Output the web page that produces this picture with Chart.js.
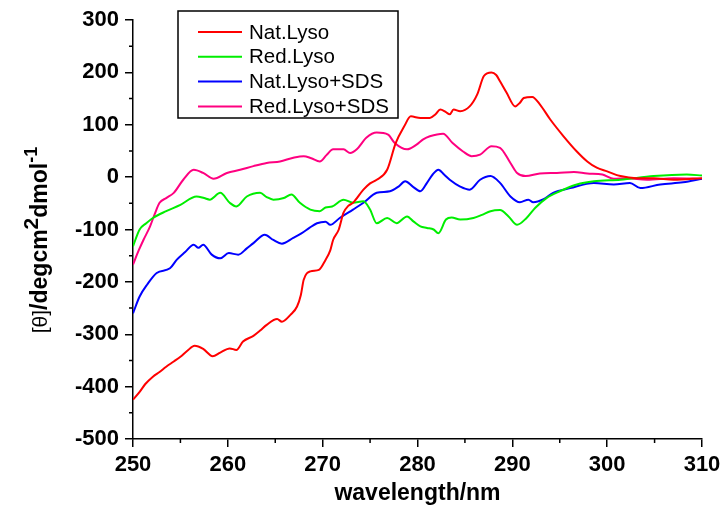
<!DOCTYPE html>
<html>
<head>
<meta charset="utf-8">
<script src="https://cdn.jsdelivr.net/npm/chart.js@4.4.0/dist/chart.umd.min.js"></script>
<style>
  html, body { margin: 0; padding: 0; background: #fff; }
  #wrap { width: 726px; height: 525px; }
</style>
</head>
<body>
<div id="wrap"><canvas id="cd" width="726" height="525"></canvas></div>
<script>
const seriesNames = ["Nat.Lyso", "Red.Lyso", "Nat.Lyso+SDS", "Red.Lyso+SDS"];
const seriesColors = ["#ff0000", "#00ee00", "#0000ff", "#ff0080"];

const natLysoX = [250, 250.7, 251.3, 252.1, 252.8, 253.5, 254.3, 255.0, 255.7, 256.5, 257.4, 258.4, 259.2, 260.2, 260.9, 261.6, 262.7, 263.4, 264.1, 265.2, 265.7, 266.6, 267.3, 267.7, 268.0, 268.7, 269.6, 270.3, 270.8, 271.1, 271.7, 272.2, 272.7, 273.2, 274.3, 275.0, 275.7, 276.8, 277.7, 278.6, 279.3, 280.3, 281.3, 281.9, 282.4, 283.0, 283.4, 283.8, 284.5, 285.5, 286.3, 287.0, 287.8, 288.3, 288.7, 289.4, 290.3, 290.8, 291.2, 292.1, 292.9, 294.0, 295.4, 296.8, 297.9, 298.9, 300.0, 301.4, 303.1, 304.9, 307.0, 310];
const natLysoY = [-425, -410, -395, -381, -372, -362, -352, -343, -332, -322, -328, -342, -335, -327, -330, -314, -303, -293, -282, -271, -276, -263, -247, -225, -196, -180, -177, -158, -140, -120, -100, -68, -55, -49, -24, -12, -5, 14, 65, 97, 116, 113, 113, 120, 129, 124, 120, 129, 126, 135, 158, 193, 200, 195, 183, 161, 135, 142, 151, 153, 139, 110, 78, 49, 30, 18, 11, 2, -2, -2, -5, -2];

const redLysoX = [250, 250.7, 251.4, 252.1, 253.5, 255.0, 256.7, 257.5, 258.1, 259.2, 260.2, 260.9, 262.0, 263.4, 264.1, 264.8, 265.9, 266.7, 267.6, 268.7, 269.7, 270.3, 271.0, 272.2, 273.2, 274.3, 275.0, 275.7, 276.8, 277.8, 278.9, 279.6, 280.3, 281.0, 281.7, 282.2, 283.0, 283.6, 284.5, 285.9, 286.8, 287.7, 288.7, 289.6, 290.5, 291.5, 292.4, 293.6, 295.0, 296.8, 298.6, 301.4, 304.9, 308.4, 310];
const redLysoY = [-132, -100, -88, -78, -65, -53, -37, -40, -43, -30, -49, -56, -37, -30, -38, -43, -40, -33, -49, -62, -65, -58, -56, -43, -49, -46, -62, -88, -78, -88, -75, -85, -94, -97, -100, -107, -81, -77, -81, -78, -72, -65, -63, -75, -91, -78, -59, -40, -27, -14, -8, -5, 2, 5, 3];

const natSdsX = [250, 250.7, 251.5, 252.5, 253.9, 254.6, 255.5, 256.4, 256.9, 257.4, 258.3, 259.2, 260.1, 261.1, 262.0, 262.7, 263.9, 264.8, 265.7, 266.9, 267.8, 268.6, 269.4, 270.3, 270.8, 271.8, 273.2, 274.3, 275.7, 277.1, 278.0, 278.7, 279.5, 280.3, 281.0, 281.6, 282.2, 282.8, 283.4, 284.5, 285.5, 286.6, 287.7, 288.7, 289.8, 290.8, 291.7, 292.2, 293.3, 294.3, 296.1, 298.6, 300.7, 302.4, 303.5, 305.6, 308.0, 310];
const natSdsY = [-260, -228, -205, -183, -174, -158, -143, -129, -135, -129, -148, -155, -145, -148, -136, -126, -110, -120, -127, -116, -107, -97, -88, -85, -91, -78, -62, -49, -30, -27, -18, -8, -18, -27, -11, 5, 14, 5, -5, -18, -24, -5, 2, -11, -37, -48, -43, -48, -42, -30, -21, -11, -14, -11, -21, -14, -10, -3];

const redSdsX = [250, 250.6, 251.1, 251.8, 252.3, 252.8, 253.5, 254.3, 255.3, 256.4, 257.4, 258.5, 259.9, 261.3, 262.7, 264.1, 265.5, 266.9, 268.0, 268.8, 269.7, 270.4, 271.1, 272.2, 272.9, 273.6, 274.6, 275.7, 276.9, 277.6, 278.9, 279.9, 280.6, 281.3, 282.7, 283.7, 284.8, 285.7, 286.6, 287.8, 288.7, 289.8, 290.5, 291.4, 292.9, 294.7, 296.5, 297.9, 299.5, 300.7, 302.1, 304.2, 307.0, 310];
const redSdsY = [-167, -140, -120, -94, -70, -49, -40, -30, -5, 14, 8, -3, 8, 14, 21, 27, 30, 37, 40, 36, 30, 42, 53, 53, 46, 53, 75, 85, 81, 65, 53, 62, 72, 78, 83, 65, 49, 40, 43, 59, 56, 27, 8, 2, 7, 8, 10, 7, 5, -3, -2, -5, -2, -3];

const xMin = 250, xMax = 310, xStep = 10;
const yMin = -500, yMax = 300, yStep = 100;

const seriesX = [natLysoX, redLysoX, natSdsX, redSdsX];
const seriesY = [natLysoY, redLysoY, natSdsY, redSdsY];

const datasets = seriesNames.map((name, i) => ({
  label: name,
  data: seriesX[i].map((x, j) => ({ x, y: seriesY[i][j] })),
  borderColor: seriesColors[i],
  backgroundColor: seriesColors[i],
  borderWidth: 2,
  pointRadius: 0,
  cubicInterpolationMode: "monotone",
  fill: false
}));

// minor ticks, axis titles and the framed legend
const decor = {
  id: "decor",
  afterDraw(chart) {
    const ctx = chart.ctx;
    const xs = chart.scales.x, ys = chart.scales.y;
    const area = chart.chartArea;
    ctx.save();
    ctx.strokeStyle = "#000";
    ctx.lineWidth = 1.5;
    ctx.beginPath();
    for (let v = yMin + yStep / 2; v < yMax; v += yStep) {
      const py = ys.getPixelForValue(v);
      ctx.moveTo(area.left, py); ctx.lineTo(area.left - 4, py);
    }
    for (let v = xMin + xStep / 2; v < xMax; v += xStep) {
      const px = xs.getPixelForValue(v);
      ctx.moveTo(px, area.bottom); ctx.lineTo(px, area.bottom + 4);
    }
    ctx.stroke();

    // x title
    ctx.fillStyle = "#000";
    ctx.font = "bold 23px Arial";
    ctx.textAlign = "center";
    ctx.textBaseline = "middle";
    ctx.fillText("wavelength/nm", (area.left + area.right) / 2, 494);

    // y title with superscripts
    const parts = [
      { t: "[θ]", f: "21px Arial", dy: 0 },
      { t: "/degcm", f: "bold 23px Arial", dy: 0 },
      { t: "2", f: "bold 21px Arial", dy: -9 },
      { t: "dmol", f: "bold 23px Arial", dy: 0 },
      { t: "-1", f: "bold 18px Arial", dy: -10 }
    ];
    let total = 0;
    parts.forEach(p => { ctx.font = p.f; p.w = ctx.measureText(p.t).width; total += p.w; });
    ctx.translate(47, 240);
    ctx.rotate(-Math.PI / 2);
    ctx.textAlign = "left";
    ctx.textBaseline = "alphabetic";
    let cx = -total / 2;
    parts.forEach(p => { ctx.font = p.f; ctx.fillText(p.t, cx, p.dy); cx += p.w; });
    ctx.setTransform(1, 0, 0, 1, 0, 0);

    // legend
    ctx.fillStyle = "#fff";
    ctx.fillRect(178, 11, 220, 107);
    ctx.strokeStyle = "#000";
    ctx.lineWidth = 1.5;
    ctx.strokeRect(178, 11, 220, 107);
    ctx.font = "20.5px Arial";
    ctx.textBaseline = "middle";
    chart.data.datasets.forEach((ds, i) => {
      const ly = 32 + i * 24.8;
      ctx.strokeStyle = ds.borderColor;
      ctx.lineWidth = 2;
      ctx.beginPath(); ctx.moveTo(198, ly); ctx.lineTo(242, ly); ctx.stroke();
      ctx.fillStyle = "#000";
      ctx.fillText(ds.label, 249, ly + 1);
    });
    ctx.restore();
  }
};

const tickFont = { family: "Arial", size: 22, weight: "bold" };

new Chart(document.getElementById("cd"), {
  type: "line",
  data: { datasets },
  options: {
    responsive: false,
    animation: false,
    layout: { padding: { top: 20, right: 24, left: 0, bottom: 0 } },
    plugins: { legend: { display: false }, tooltip: { enabled: false } },
    scales: {
      x: {
        type: "linear",
        min: xMin, max: xMax,
        ticks: { stepSize: xStep, color: "#000", font: tickFont, padding: 5, maxRotation: 0 },
        grid: { drawOnChartArea: false, drawTicks: true, tickLength: 8, color: "#000", lineWidth: 1.5 },
        border: { display: true, color: "#000", width: 1.5 },
        afterFit: s => { s.height = 86; }
      },
      y: {
        type: "linear",
        min: yMin, max: yMax,
        ticks: { stepSize: yStep, color: "#000", font: tickFont, padding: 6 },
        grid: { drawOnChartArea: false, drawTicks: true, tickLength: 8, color: "#000", lineWidth: 1.5 },
        border: { display: true, color: "#000", width: 1.5 },
        afterFit: s => { s.width = 133; }
      }
    }
  },
  plugins: [decor]
});
</script>
</body>
</html>
